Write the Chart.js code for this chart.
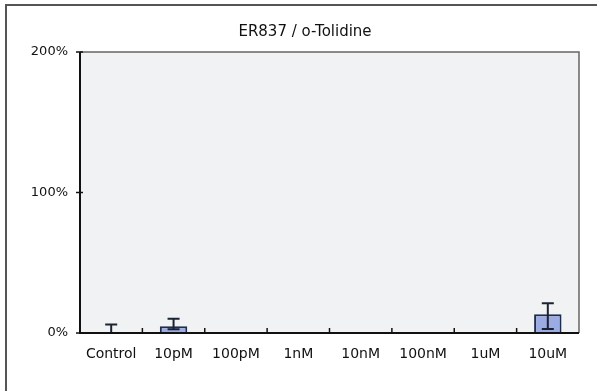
<!DOCTYPE html>
<html>
<head>
<meta charset="utf-8">
<script src="https://cdn.jsdelivr.net/npm/chart.js@4/dist/chart.umd.min.js"></script>
<style>
  html, body { margin: 0; padding: 0; background: #fff; }
  #wrap { width: 597px; height: 391px; position: relative; }
</style>
</head>
<body>
<div id="wrap"><canvas id="chartCanvas"></canvas></div>
<script>
// values (percent)
const categories = ['Control', '10pM', '100pM', '1nM', '10nM', '100nM', '1uM', '10uM'];
const values     = [0, 4.8, 0, 0.3, 0, 0.3, 0.7, 13.3];
const errUpper   = [6, 10.2, null, null, null, null, null, 21.2];
const errLower   = [0, 2.6, null, null, null, null, null, 2.8];
const yTicks     = [0, 100, 200];
const chartTitle = 'ER837 / o-Tolidine';

// draws background, frame, axes, ticks, error bars and the title
const decorPlugin = {
    id: 'decor',
    beforeDatasetsDraw(chart) {
        const ctx = chart.ctx;
        const a = chart.chartArea;
        ctx.save();
        ctx.fillStyle = '#f0f2f3';
        ctx.fillRect(a.left, a.top, a.right - a.left, a.bottom - a.top);
        ctx.restore();
    },
    afterDatasetsDraw(chart) {
        const ctx = chart.ctx;
        const a = chart.chartArea;
        const x = chart.scales.x;
        const y = chart.scales.y;
        ctx.save();

        // error bars
        ctx.strokeStyle = '#1b2333';
        ctx.lineWidth = 2;
        categories.forEach((c, i) => {
            if (errUpper[i] == null) return;
            const px = x.getPixelForValue(i);
            const top = y.getPixelForValue(errUpper[i]);
            const bot = y.getPixelForValue(errLower[i]);
            ctx.beginPath();
            ctx.moveTo(px, top);
            ctx.lineTo(px, bot);
            ctx.moveTo(px - 6, top);
            ctx.lineTo(px + 6, top);
            if (errLower[i] > 0) {
                ctx.moveTo(px - 6, bot);
                ctx.lineTo(px + 6, bot);
            }
            ctx.stroke();
        });

        // plot frame top / right
        ctx.strokeStyle = '#666';
        ctx.lineWidth = 1.5;
        ctx.beginPath();
        ctx.moveTo(a.left, a.top);
        ctx.lineTo(a.right, a.top);
        ctx.lineTo(a.right, a.bottom);
        ctx.stroke();

        // axes left / bottom
        ctx.strokeStyle = '#111';
        ctx.lineWidth = 2;
        ctx.beginPath();
        ctx.moveTo(a.left, a.top);
        ctx.lineTo(a.left, a.bottom);
        ctx.lineTo(a.right, a.bottom);
        ctx.stroke();

        // y ticks cross the axis
        ctx.lineWidth = 1.5;
        yTicks.forEach(v => {
            const py = y.getPixelForValue(v);
            ctx.beginPath();
            ctx.moveTo(a.left - 4, py);
            ctx.lineTo(a.left + 3, py);
            ctx.stroke();
        });

        // x ticks at category boundaries, pointing up
        for (let i = 1; i < categories.length; i++) {
            const px = (x.getPixelForValue(i - 1) + x.getPixelForValue(i)) / 2;
            ctx.beginPath();
            ctx.moveTo(px, a.bottom);
            ctx.lineTo(px, a.bottom - 5);
            ctx.stroke();
        }

        // outer frame
        ctx.strokeStyle = '#555';
        ctx.lineWidth = 2;
        ctx.beginPath();
        ctx.moveTo(6, 391);
        ctx.lineTo(6, 5);
        ctx.lineTo(597, 5);
        ctx.stroke();

        // title
        ctx.fillStyle = '#111';
        ctx.font = '15px "DejaVu Sans"';
        ctx.textAlign = 'center';
        ctx.textBaseline = 'middle';
        ctx.fillText(chartTitle, 305, 32);

        ctx.restore();
    }
};

document.addEventListener('DOMContentLoaded', function() {
    const ctx = document.getElementById('chartCanvas').getContext('2d');
    new Chart(ctx, {
        type: 'bar',
        data: {
            labels: categories,
            datasets: [{
                data: values,
                backgroundColor: '#9babe3',
                borderColor: '#1f2c4c',
                borderWidth: 2,
                categoryPercentage: 1,
                barPercentage: 0.44
            }]
        },
        options: {
            responsive: true,
            maintainAspectRatio: false,
            animation: false,
            layout: {
                padding: { top: 52, right: 18, left: 0, bottom: 0 }
            },
            plugins: {
                legend: { display: false },
                title: { display: false },
                tooltip: { enabled: false }
            },
            scales: {
                x: {
                    grid: { display: false, drawTicks: false },
                    border: { display: false },
                    ticks: {
                        color: '#111',
                        padding: 13,
                        maxRotation: 0,
                        font: { family: 'DejaVu Sans', size: 14 }
                    },
                    afterFit(scale) { scale.height = 58; }
                },
                y: {
                    min: 0,
                    max: 200,
                    grid: { display: false, drawTicks: false },
                    border: { display: false },
                    afterBuildTicks(scale) {
                        scale.ticks = yTicks.map(v => ({ value: v }));
                    },
                    ticks: {
                        color: '#111',
                        padding: 12,
                        font: { family: 'DejaVu Sans', size: 13 },
                        callback: v => v + '%'
                    },
                    afterFit(scale) { scale.width = 80; }
                }
            }
        },
        plugins: [decorPlugin]
    });
});
</script>
</body>
</html>
